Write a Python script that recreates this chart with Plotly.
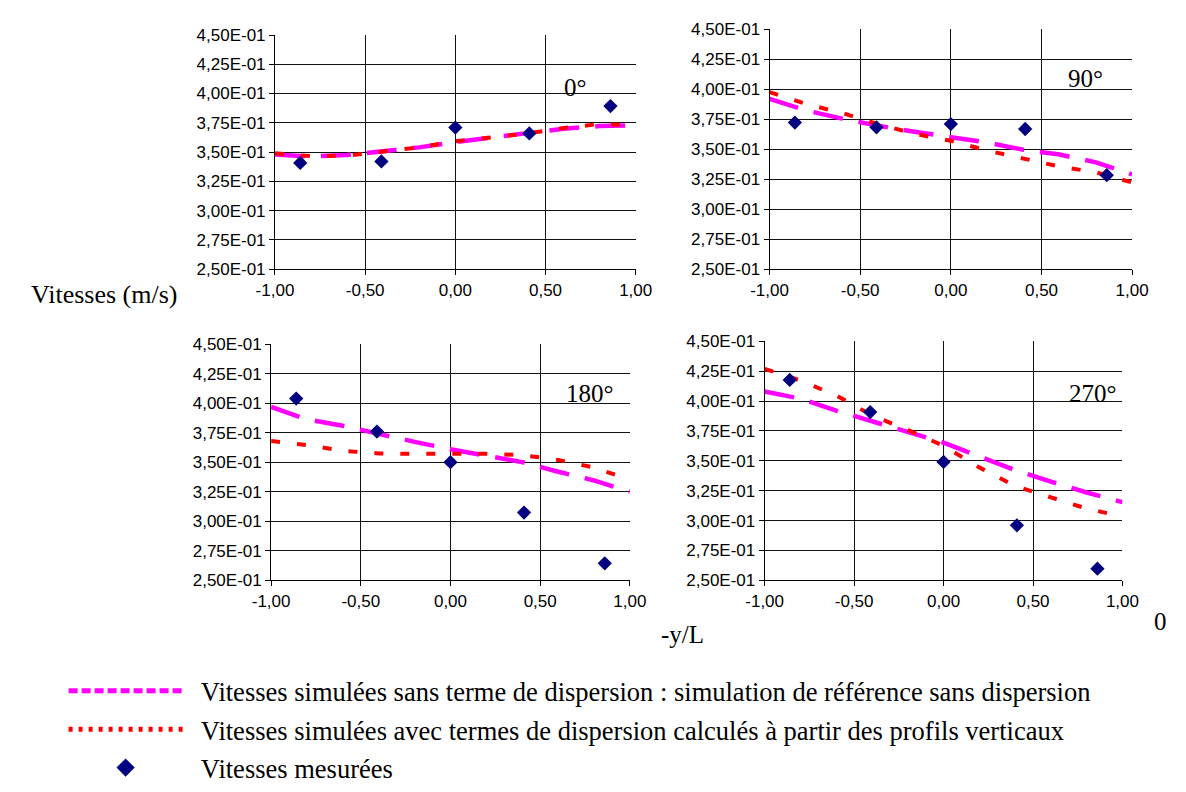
import plotly.graph_objects as go

# ---------------- data ----------------
X_MEAS = [-0.86, -0.41, 0.0, 0.41, 0.86]
X_SIM = [-1.0, -0.8, -0.6, -0.4, -0.2, 0.0, 0.2, 0.4, 0.6, 0.8, 1.0]

PANELS = ["0°", "90°", "180°", "270°"]

MEAS_0 = [0.3407, 0.342, 0.3709, 0.3659, 0.3893]
MEAS_90 = [0.3722, 0.3682, 0.3709, 0.3668, 0.3283]
MEAS_180 = [0.404, 0.376, 0.3501, 0.3074, 0.2644]
MEAS_270 = [0.4177, 0.3908, 0.3491, 0.296, 0.2597]

SANS_0 = [0.348, 0.3462, 0.3475, 0.351, 0.354, 0.3585, 0.3626, 0.366, 0.370, 0.3722, 0.3728]
SANS_90 = [0.392, 0.3824, 0.3755, 0.3695, 0.3645, 0.3596, 0.3555, 0.3495, 0.3455, 0.339, 0.3289]
SANS_180 = [0.397, 0.3863, 0.3809, 0.3738, 0.3673, 0.361, 0.3556, 0.3501, 0.342, 0.3346, 0.3251]
SANS_270 = [0.408, 0.4021, 0.3921, 0.3832, 0.3741, 0.3652, 0.3536, 0.3423, 0.3326, 0.3235, 0.3154]

AVEC_0 = [0.3489, 0.3465, 0.347, 0.3505, 0.354, 0.3591, 0.3625, 0.3659, 0.3705, 0.374, 0.3728]
AVEC_90 = [0.3976, 0.3877, 0.3802, 0.3709, 0.3628, 0.357, 0.3489, 0.342, 0.3355, 0.3307, 0.3222]
AVEC_180 = [0.368, 0.3646, 0.3597, 0.3575, 0.3572, 0.3572, 0.3572, 0.3561, 0.352, 0.3455, 0.3352]
AVEC_270 = [0.427, 0.4172, 0.4048, 0.388, 0.3759, 0.3625, 0.3445, 0.3289, 0.3194, 0.31, 0.3033]

Y_TICKS = [0.25, 0.275, 0.30, 0.325, 0.35, 0.375, 0.40, 0.425, 0.45]
Y_TICKTEXT = ["2,50E-01", "2,75E-01", "3,00E-01", "3,25E-01", "3,50E-01",
              "3,75E-01", "4,00E-01", "4,25E-01", "4,50E-01"]
X_TICKS = [-1.0, -0.5, 0.0, 0.5, 1.0]
X_TICKTEXT = ["-1,00", "-0,50", "0,00", "0,50", "1,00"]

LEG_SANS = "Vitesses simulées sans terme de dispersion : simulation de référence sans dispersion"
LEG_AVEC = "Vitesses simulées avec termes de dispersion calculés à partir des profils verticaux"
LEG_MEAS = "Vitesses mesurées"

MEAS = [MEAS_0, MEAS_90, MEAS_180, MEAS_270]
SANS = [SANS_0, SANS_90, SANS_180, SANS_270]
AVEC = [AVEC_0, AVEC_90, AVEC_180, AVEC_270]

W, H = 1186, 792
# plot areas in pixels (left, right, top, bottom)
BOXES = [(264, 636, 27, 270), (774, 1148, 21, 270), (260, 630, 348, 593), (769, 1138, 345, 593)]
# panel label placement (right edge, vertical centre) in axis-domain fractions
LABEL_POS = [(0.871, 0.775), (0.925, 0.793), (0.962, 0.792), (0.989, 0.782)]

MAGENTA = "#FF00FF"
RED = "#FF0000"
NAVY = "#000080"
SERIF = "Liberation Serif"
SANS_FONT = "Liberation Sans"
PAD = "\u00a0\u00a0"

fig = go.Figure()
layout = {}
for i, (l, r, t, b) in enumerate(BOXES):
    n = "" if i == 0 else str(i + 1)
    xa, ya = "x" + n, "y" + n
    fig.add_trace(go.Scatter(x=X_SIM, y=SANS[i], mode="lines", xaxis=xa, yaxis=ya,
                             line=dict(color=MAGENTA, width=4.5, dash="30px,16px"),
                             showlegend=False, hoverinfo="skip"))
    fig.add_trace(go.Scatter(x=X_SIM, y=AVEC[i], mode="lines", xaxis=xa, yaxis=ya,
                             line=dict(color=RED, width=4, dash="9px,17px"),
                             showlegend=False, hoverinfo="skip"))
    fig.add_trace(go.Scatter(x=X_MEAS, y=MEAS[i], mode="markers", xaxis=xa, yaxis=ya,
                             marker=dict(symbol="diamond", color=NAVY, size=11),
                             showlegend=False))
    common = dict(showline=True, linecolor="#000", linewidth=1, ticks="outside",
                  ticklen=5, tickcolor="#000", gridcolor="#111", gridwidth=1,
                  zeroline=False, tickfont=dict(family=SANS_FONT, size=17, color="#000"))
    layout["xaxis" + n] = dict(domain=[l / W, r / W], anchor=ya, range=[-1, 1],
                               tickvals=X_TICKS, ticktext=X_TICKTEXT, **common)
    layout["yaxis" + n] = dict(domain=[1 - b / H, 1 - t / H], anchor=xa, range=[0.25, 0.45],
                               tickvals=Y_TICKS, ticktext=Y_TICKTEXT, **common)

# legend-only entries
fig.add_trace(go.Scatter(x=[None], y=[None], mode="lines", name=PAD + LEG_SANS, legendgroup="a",
                         line=dict(color=MAGENTA, width=5, dash="9px,4px")))
fig.add_trace(go.Scatter(x=[None], y=[None], mode="lines", name=PAD + LEG_AVEC, legendgroup="b",
                         line=dict(color=RED, width=5, dash="4px,6px")))
fig.add_trace(go.Scatter(x=[None], y=[None], mode="markers", name=PAD + LEG_MEAS, legendgroup="c",
                         marker=dict(symbol="diamond", color=NAVY, size=14)))

annotations = []
for i, lab in enumerate(PANELS):
    n = "" if i == 0 else str(i + 1)
    px, py = LABEL_POS[i]
    annotations.append(dict(text=lab, xref="x" + n + " domain", yref="y" + n + " domain",
                            x=px, y=py, showarrow=False, xanchor="right", yanchor="middle",
                            font=dict(family=SERIF, size=25, color="#000")))
annotations.append(dict(text="Vitesses (m/s)", xref="paper", yref="paper", x=10 / W, y=1 - 296 / H,
                        xanchor="left", yanchor="middle", showarrow=False,
                        font=dict(family=SERIF, size=26, color="#000")))
annotations.append(dict(text="-y/L", xref="paper", yref="paper", x=684 / W, y=1 - 649 / H,
                        xanchor="center", yanchor="middle", showarrow=False,
                        font=dict(family=SERIF, size=25, color="#000")))
annotations.append(dict(text="0", xref="paper", yref="paper", x=1177 / W, y=1 - 636 / H,
                        xanchor="center", yanchor="middle", showarrow=False,
                        font=dict(family=SERIF, size=25, color="#000")))

fig.update_layout(
    width=W, height=H,
    margin=dict(l=0, r=0, t=0, b=0),
    paper_bgcolor="white", plot_bgcolor="white",
    showlegend=True,
    legend=dict(x=46 / W, y=1 - 683 / H, xanchor="left", yanchor="top",
                font=dict(family=SERIF, size=26.5, color="#000"),
                itemwidth=114, tracegroupgap=1, traceorder="grouped",
                bgcolor="rgba(0,0,0,0)"),
    annotations=annotations,
    **layout,
)

fig.write_html("out.html")
